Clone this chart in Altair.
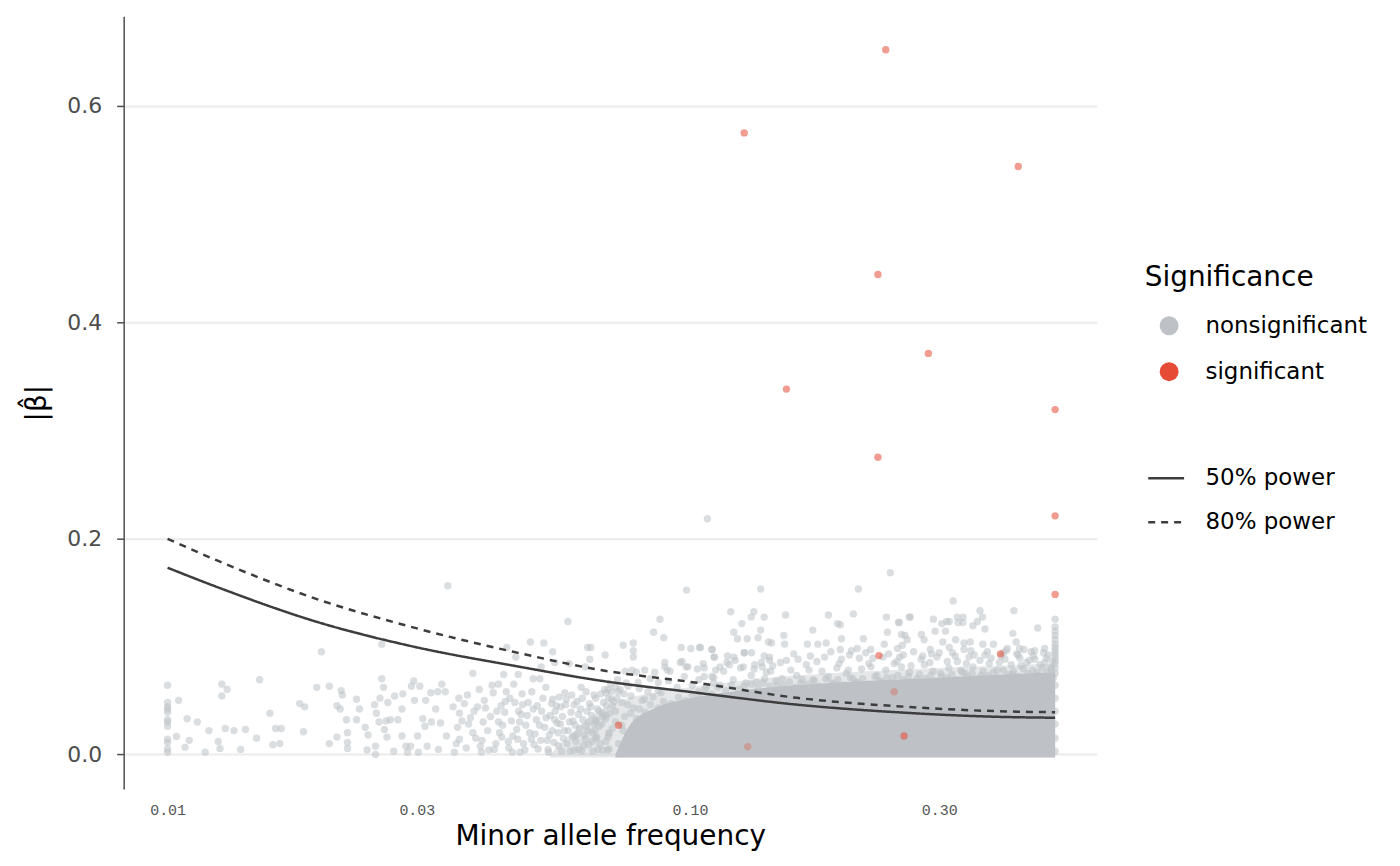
import altair as alt
import pandas as pd

# ---------------- data ----------------
# sparse non-significant variants, low MAF region
grey_left = [
    (0.01, 0.064), (0.01, 0.048), (0.01, 0.044), (0.01, 0.042), (0.01, 0.039), (0.01, 0.032),
    (0.01, 0.030), (0.01, 0.026), (0.01, 0.014), (0.01, 0.011), (0.01, 0.005), (0.01, 0.002),
    (0.0105, 0.050), (0.0104, 0.0166), (0.0108, 0.0065), (0.0109, 0.033), (0.0110, 0.013),
    (0.0114, 0.030), (0.0118, 0.002), (0.0120, 0.022), (0.0125, 0.012), (0.0126, 0.0055),
    (0.0127, 0.065), (0.0130, 0.060), (0.0127, 0.054), (0.0129, 0.024), (0.0134, 0.022),
    (0.0138, 0.0046), (0.0141, 0.023), (0.0150, 0.069), (0.0148, 0.015), (0.0157, 0.038),
    (0.0159, 0.009), (0.0161, 0.024), (0.0165, 0.024), (0.0164, 0.010), (0.0182, 0.021),
    (0.0179, 0.047), (0.0183, 0.044), (0.0193, 0.062), (0.0197, 0.095), (0.0204, 0.063),
    (0.0204, 0.010), (0.0211, 0.016), (0.0211, 0.045), (0.0215, 0.059), (0.0216, 0.055),
    (0.0214, 0.042), (0.0220, 0.032), (0.0221, 0.020), (0.0221, 0.0055), (0.0221, 0.011),
    (0.0230, 0.032), (0.0230, 0.051), (0.0233, 0.042), (0.0239, 0.025), (0.0241, 0.004),
    (0.0242, 0.018), (0.0249, 0.046), (0.0250, 0.0075), (0.0250, 0.0), (0.0251, 0.038),
    (0.0255, 0.052), (0.0257, 0.070), (0.0257, 0.102), (0.0259, 0.062), (0.0254, 0.030),
    (0.0262, 0.031), (0.0260, 0.023), (0.0264, 0.048), (0.0267, 0.032), (0.0263, 0.016),
    (0.0271, 0.003), (0.0272, 0.054), (0.0276, 0.032), (0.0281, 0.042), (0.0282, 0.056),
    (0.0281, 0.017), (0.0286, 0.0075), (0.0288, 0.002), (0.0293, 0.063), (0.0296, 0.068),
    (0.0297, 0.050), (0.0292, 0.0075), (0.0301, 0.017), (0.0304, 0.063), (0.0302, 0.002),
    (0.0308, 0.033), (0.0312, 0.050), (0.0311, 0.026), (0.0314, 0.0075), (0.0319, 0.057),
    (0.0320, 0.030), (0.0326, 0.042), (0.0329, 0.058), (0.0330, 0.0046), (0.0333, 0.029),
    (0.0335, 0.065), (0.0340, 0.058), (0.0344, 0.156), (0.0342, 0.017), (0.0354, 0.002),
    (0.0359, 0.025), (0.0361, 0.052), (0.0362, 0.038), (0.0362, 0.014), (0.0375, 0.055),
    (0.0377, 0.028), (0.0384, 0.075), (0.0386, 0.040), (0.0384, 0.020), (0.0392, 0.044),
    (0.0397, 0.0075), (0.0399, 0.002), (0.0406, 0.043), (0.0402, 0.030), (0.0420, 0.057),
    (0.0422, 0.0046), (0.0430, 0.065), (0.0430, 0.030), (0.0432, 0.020), (0.0440, 0.074),
    (0.0443, 0.049), (0.0442, 0.039), (0.0446, 0.099), (0.0449, 0.012), (0.0460, 0.065),
    (0.0464, 0.090), (0.0462, 0.048), (0.0469, 0.074), (0.0466, 0.023), (0.0473, 0.002),
    (0.0477, 0.056), (0.0475, 0.037), (0.0495, 0.104), (0.0501, 0.070), (0.0501, 0.042),
    (0.0497, 0.014), (0.0516, 0.070), (0.0525, 0.103), (0.0519, 0.081), (0.0530, 0.062),
    (0.0535, 0.0046), (0.0546, 0.095), (0.0546, 0.051), (0.0551, 0.032), (0.0551, 0.085),
    (0.0559, 0.020), (0.0566, 0.044), (0.0576, 0.057), (0.0584, 0.123), (0.0587, 0.084),
    (0.0592, 0.039), (0.0602, 0.017), (0.0611, 0.0046), (0.0619, 0.062), (0.0630, 0.081),
    (0.0632, 0.026), (0.0637, 0.099), (0.0646, 0.099), (0.0643, 0.088), (0.0646, 0.044),
    (0.0661, 0.032), (0.0667, 0.0046), (0.0688, 0.092), (0.0691, 0.057), (0.0697, 0.016),
    (0.0352, 0.044), (0.0357, 0.010), (0.0366, 0.031), (0.0370, 0.047), (0.0373, 0.006),
    (0.0380, 0.034), (0.0389, 0.015), (0.0395, 0.060), (0.0404, 0.050), (0.0412, 0.004),
    (0.0418, 0.064), (0.0427, 0.040), (0.0436, 0.016), (0.0445, 0.058),
]

# denser cloud just before the solid mass
grey_mid = [
    (0.0400, 0.013), (0.0410, 0.022), (0.0415, 0.035), (0.0425, 0.010), (0.0435, 0.045),
    (0.0438, 0.027), (0.0450, 0.006), (0.0455, 0.031), (0.0458, 0.017), (0.0470, 0.040),
    (0.0480, 0.010), (0.0485, 0.027), (0.0490, 0.048), (0.0505, 0.019), (0.0508, 0.032),
    (0.0512, 0.005), (0.0520, 0.040), (0.0527, 0.025), (0.0533, 0.013), (0.0540, 0.036),
    (0.0545, 0.022), (0.0555, 0.045), (0.0560, 0.008), (0.0565, 0.028), (0.0572, 0.015),
    (0.0580, 0.051), (0.0585, 0.022), (0.0590, 0.003), (0.0597, 0.031), (0.0600, 0.046),
    (0.0605, 0.012), (0.0612, 0.037), (0.0615, 0.024), (0.0622, 0.052), (0.0625, 0.008),
    (0.0628, 0.018), (0.0635, 0.040), (0.0640, 0.030), (0.0650, 0.012), (0.0655, 0.055),
    (0.0658, 0.022), (0.0665, 0.042), (0.0672, 0.010), (0.0678, 0.028), (0.0683, 0.048),
    (0.0690, 0.036), (0.0695, 0.004), (0.0700, 0.020), (0.0705, 0.065), (0.0710, 0.045),
    (0.0745, 0.101), (0.0779, 0.103), (0.0779, 0.096), (0.0779, 0.090), (0.0775, 0.078),
    (0.0852, 0.113), (0.0876, 0.125), (0.0891, 0.108), (0.0985, 0.152), (0.0962, 0.099),
    (0.1004, 0.098), (0.1043, 0.099), (0.1102, 0.097), (0.1111, 0.090), (0.0966, 0.086),
    (0.0991, 0.081), (0.1065, 0.080), (0.0895, 0.081), (0.0905, 0.078), (0.0856, 0.076),
    (0.0819, 0.078), (0.0790, 0.076), (0.0752, 0.077),
    (0.1271, 0.094), (0.1312, 0.094), (0.1387, 0.091), (0.1433, 0.103), (0.1420, 0.087),
    (0.0895, 0.085), (0.0916, 0.077), (0.0958, 0.085), (0.0983, 0.081), (0.1033, 0.079),
    (0.1065, 0.072), (0.1102, 0.072), (0.1142, 0.081), (0.1177, 0.085), (0.1213, 0.090),
    (0.1265, 0.081), (0.1327, 0.079), (0.1375, 0.081), (0.1427, 0.077),
    (0.0697, 0.060), (0.0727, 0.069), (0.0761, 0.063), (0.0796, 0.0665), (0.0831, 0.058),
    (0.0870, 0.0665), (0.0707, 0.051), (0.0771, 0.054), (0.0819, 0.051),
    (0.0730, 0.058), (0.0755, 0.066), (0.0800, 0.061), (0.0840, 0.070), (0.0870, 0.059),
    (0.0910, 0.068), (0.0945, 0.062), (0.0975, 0.072), (0.1010, 0.064), (0.1040, 0.069),
    (0.1075, 0.062), (0.1110, 0.066),
    (0.0452, 0.052), (0.0457, 0.002), (0.0468, 0.014), (0.0472, 0.030), (0.0478, 0.046),
    (0.0483, 0.004), (0.0488, 0.036), (0.0493, 0.020), (0.0498, 0.058), (0.0503, 0.009),
    (0.0510, 0.045), (0.0515, 0.027), (0.0518, 0.013), (0.0523, 0.052), (0.0530, 0.034),
    (0.0536, 0.002), (0.0538, 0.018), (0.0543, 0.047), (0.0549, 0.011), (0.0552, 0.040),
    (0.0557, 0.029), (0.0562, 0.053), (0.0568, 0.003), (0.0570, 0.035), (0.0575, 0.022),
    (0.0578, 0.046), (0.0582, 0.010), (0.0588, 0.030), (0.0594, 0.055), (0.0596, 0.016),
    (0.0600, 0.004), (0.0603, 0.027), (0.0608, 0.049), (0.0610, 0.019), (0.0617, 0.042),
    (0.0620, 0.003), (0.0624, 0.032), (0.0630, 0.014), (0.0633, 0.058), (0.0638, 0.022),
    (0.0642, 0.047), (0.0648, 0.036), (0.0652, 0.003), (0.0656, 0.028), (0.0660, 0.052),
    (0.0663, 0.016), (0.0670, 0.040), (0.0675, 0.056), (0.0680, 0.035), (0.0686, 0.060),
    (0.0692, 0.045), (0.0698, 0.052), (0.0702, 0.038), (0.0708, 0.058), (0.0715, 0.049),
    (0.0720, 0.062), (0.0725, 0.052), (0.0735, 0.060), (0.0740, 0.048), (0.0748, 0.056),
]

# points along the left edge of the saturated mass
grey_edge_left = [
    (0.068, 0.004), (0.069, 0.012), (0.070, 0.019), (0.071, 0.024), (0.072, 0.030),
    (0.074, 0.027), (0.075, 0.035), (0.077, 0.038), (0.079, 0.033), (0.080, 0.042),
    (0.082, 0.039), (0.084, 0.046), (0.087, 0.043), (0.089, 0.049), (0.092, 0.047),
    (0.095, 0.053), (0.098, 0.050), (0.101, 0.055), (0.104, 0.053), (0.066, 0.015),
    (0.067, 0.026), (0.069, 0.033), (0.072, 0.040), (0.076, 0.046), (0.078, 0.043),
    (0.081, 0.050), (0.085, 0.053), (0.088, 0.057), (0.064, 0.009), (0.065, 0.020),
    (0.066, 0.031), (0.068, 0.038), (0.073, 0.010), (0.076, 0.018), (0.070, 0.005),
    (0.0745, 0.022), (0.0785, 0.028), (0.0825, 0.034), (0.0865, 0.040), (0.0905, 0.044),
]

# points along the upper edge of the saturated mass
grey_edge_top = [
    (0.104, 0.058), (0.107, 0.061), (0.110, 0.056), (0.113, 0.062), (0.117, 0.059),
    (0.120, 0.064), (0.124, 0.060), (0.127, 0.063), (0.131, 0.065), (0.135, 0.061),
    (0.138, 0.066), (0.142, 0.063), (0.146, 0.068), (0.151, 0.064), (0.155, 0.067),
    (0.159, 0.062), (0.164, 0.069), (0.168, 0.065), (0.173, 0.068), (0.177, 0.063),
    (0.182, 0.070), (0.187, 0.066), (0.192, 0.069), (0.197, 0.064), (0.203, 0.071),
    (0.208, 0.067), (0.214, 0.070), (0.219, 0.065), (0.226, 0.072), (0.231, 0.068),
    (0.238, 0.071), (0.243, 0.066), (0.250, 0.073), (0.256, 0.069), (0.262, 0.072),
    (0.268, 0.067), (0.275, 0.074), (0.282, 0.070), (0.289, 0.073), (0.295, 0.068),
    (0.302, 0.075), (0.310, 0.071), (0.317, 0.074), (0.324, 0.069), (0.332, 0.076),
    (0.340, 0.072), (0.347, 0.075), (0.356, 0.070), (0.364, 0.077), (0.372, 0.073),
    (0.381, 0.076), (0.389, 0.071), (0.398, 0.078), (0.407, 0.074), (0.416, 0.077),
    (0.425, 0.072), (0.435, 0.079), (0.444, 0.075), (0.453, 0.078), (0.463, 0.073),
    (0.473, 0.080), (0.483, 0.076), (0.492, 0.079),
]

# fringe on top of the dense mass (MAF > 0.1)
grey_fringe = [
    (0.111, 0.071), (0.116, 0.077), (0.121, 0.069), (0.125, 0.080), (0.131, 0.073),
    (0.134, 0.067), (0.140, 0.076), (0.144, 0.082), (0.150, 0.070), (0.156, 0.078),
    (0.160, 0.073), (0.167, 0.083), (0.172, 0.069), (0.179, 0.077), (0.184, 0.072),
    (0.191, 0.080), (0.199, 0.075), (0.205, 0.070), (0.213, 0.079), (0.220, 0.084),
    (0.228, 0.073), (0.237, 0.078), (0.244, 0.071), (0.254, 0.081), (0.263, 0.076),
    (0.272, 0.070), (0.281, 0.083), (0.292, 0.077), (0.303, 0.072), (0.313, 0.080),
    (0.325, 0.086), (0.336, 0.075), (0.348, 0.081), (0.361, 0.073), (0.374, 0.084),
    (0.387, 0.078), (0.401, 0.088), (0.415, 0.074), (0.430, 0.082), (0.446, 0.087),
    (0.462, 0.076), (0.478, 0.085), (0.490, 0.080),
    (0.114, 0.064), (0.119, 0.083), (0.128, 0.066), (0.137, 0.085), (0.147, 0.064),
    (0.153, 0.087), (0.163, 0.066), (0.175, 0.086), (0.188, 0.065), (0.195, 0.088),
    (0.209, 0.066), (0.224, 0.089), (0.232, 0.067), (0.249, 0.086), (0.258, 0.066),
    (0.277, 0.088), (0.286, 0.067), (0.297, 0.090), (0.308, 0.066), (0.330, 0.078),
    (0.342, 0.090), (0.354, 0.068), (0.367, 0.092), (0.380, 0.069), (0.394, 0.091),
    (0.408, 0.070), (0.422, 0.093), (0.438, 0.069), (0.454, 0.091), (0.470, 0.070),
    (0.485, 0.092), (0.496, 0.071),
    (0.118, 0.091), (0.127, 0.094), (0.142, 0.090), (0.158, 0.093), (0.170, 0.091),
    (0.186, 0.095), (0.202, 0.092), (0.217, 0.094), (0.240, 0.093), (0.252, 0.090),
    (0.268, 0.095), (0.290, 0.093), (0.318, 0.094), (0.345, 0.096), (0.371, 0.095),
    (0.398, 0.094), (0.425, 0.092), (0.450, 0.095), (0.475, 0.094),
    (0.106, 0.084), (0.112, 0.078), (0.122, 0.087), (0.133, 0.083), (0.139, 0.070),
    (0.149, 0.085), (0.161, 0.088), (0.169, 0.078), (0.181, 0.090), (0.193, 0.084),
    (0.201, 0.078), (0.211, 0.089), (0.222, 0.081), (0.234, 0.090), (0.246, 0.084),
    (0.256, 0.092), (0.265, 0.082), (0.279, 0.091), (0.288, 0.085), (0.300, 0.094),
    (0.311, 0.086), (0.322, 0.091), (0.338, 0.084), (0.350, 0.092), (0.359, 0.087),
    (0.377, 0.089), (0.391, 0.085), (0.403, 0.096), (0.412, 0.083), (0.428, 0.089),
    (0.441, 0.085), (0.457, 0.088), (0.468, 0.083), (0.481, 0.089), (0.494, 0.086),
]

# scattered high values above the mass
grey_high = [
    (0.108, 0.218), (0.2418, 0.168), (0.2101, 0.153), (0.1366, 0.153), (0.319, 0.142),
    (0.1197, 0.132), (0.1325, 0.132), (0.1310, 0.127), (0.1387, 0.127), (0.1524, 0.129),
    (0.1841, 0.129), (0.2055, 0.130), (0.2377, 0.127), (0.2630, 0.127), (0.2506, 0.122),
    (0.2923, 0.125), (0.359, 0.133), (0.417, 0.133), (0.463, 0.117), (0.1257, 0.121),
    (0.1213, 0.113), (0.1233, 0.107), (0.1287, 0.107), (0.1366, 0.115), (0.135, 0.108),
    (0.1512, 0.110), (0.1718, 0.115), (0.1916, 0.121), (0.194, 0.120), (0.1950, 0.107),
    (0.2148, 0.107), (0.2388, 0.113), (0.2540, 0.111), (0.258, 0.110), (0.2773, 0.111),
    (0.2946, 0.114), (0.3084, 0.114), (0.3035, 0.121), (0.3136, 0.123), (0.3333, 0.127),
    (0.333, 0.122), (0.348, 0.119), (0.355, 0.123), (0.363, 0.127), (0.367, 0.116),
    (0.415, 0.112), (0.421, 0.104), (0.1047, 0.099), (0.1102, 0.097), (0.1115, 0.090),
    (0.1518, 0.102), (0.1414, 0.104), (0.1678, 0.102), (0.1757, 0.102), (0.1823, 0.103),
    (0.194, 0.097), (0.2037, 0.096), (0.209, 0.098), (0.2218, 0.097), (0.2355, 0.102),
    (0.2497, 0.098), (0.255, 0.101), (0.2605, 0.106), (0.2806, 0.106), (0.2884, 0.097),
    (0.3048, 0.104), (0.3136, 0.099), (0.3225, 0.106), (0.3346, 0.103), (0.3346, 0.097),
    (0.344, 0.104), (0.3637, 0.102), (0.3811, 0.102), (0.405, 0.098), (0.4275, 0.098),
    (0.4356, 0.097), (0.4568, 0.096), (0.4774, 0.098), (0.2640, 0.127), (0.2517, 0.122),
    (0.310, 0.123), (0.3246, 0.127), (0.326, 0.122),
]

# variants at the MAF = 0.5 edge
grey_edge = [
    (0.5, 0.125), (0.5, 0.118), (0.5, 0.114), (0.5, 0.110), (0.5, 0.106), (0.5, 0.102),
    (0.5, 0.099), (0.5, 0.096), (0.5, 0.093), (0.5, 0.090), (0.5, 0.087), (0.5, 0.084),
    (0.5, 0.080), (0.5, 0.075), (0.5, 0.064), (0.5, 0.052), (0.5, 0.040), (0.5, 0.028),
    (0.5, 0.015), (0.5, 0.003),
]

# significant variants
sig_visible = [
    (0.237, 0.652), (0.127, 0.575), (0.425, 0.544), (0.229, 0.444), (0.286, 0.371),
    (0.153, 0.338), (0.5, 0.319), (0.229, 0.275), (0.5, 0.2207), (0.5, 0.148),
    (0.230, 0.0914), (0.393, 0.093), (0.073, 0.027), (0.257, 0.017),
]
sig_buried = [(0.129, 0.007), (0.246, 0.058)]

# envelope of the saturated point cloud (MAF, upper |beta|)
mass_light_maf = [0.054, 0.06, 0.066, 0.074, 0.085, 0.1, 0.12, 0.15, 0.2, 0.3, 0.4, 0.5]
mass_light_top = [0.0, 0.022, 0.038, 0.050, 0.057, 0.062, 0.067, 0.072, 0.076, 0.080, 0.082, 0.084]
mass_core_maf = [0.072, 0.077, 0.085, 0.1, 0.12, 0.15, 0.2, 0.3, 0.4, 0.5]
mass_core_top = [0.0, 0.028, 0.042, 0.052, 0.058, 0.063, 0.067, 0.071, 0.074, 0.076]
mass_base = -0.003

# power curves
power_maf = [0.01, 0.01257, 0.0195, 0.029, 0.0469, 0.0666, 0.1033, 0.1603, 0.2486, 0.3857, 0.5]
power50 = [0.1727, 0.154, 0.122, 0.1006, 0.0813, 0.0686, 0.057, 0.046, 0.039, 0.0348, 0.0339]
power80 = [0.1994, 0.1785, 0.143, 0.1185, 0.0939, 0.0785, 0.0662, 0.0523, 0.0446, 0.040, 0.039]

x_ticks = [0.01, 0.03, 0.1, 0.3]
y_ticks = [0.0, 0.2, 0.4, 0.6]

# ---------------- tables ----------------
grey_all = grey_left + grey_mid + grey_edge_left + grey_edge_top + grey_fringe + grey_high + grey_edge
points = pd.DataFrame(
    [(m, b, "nonsignificant") for m, b in grey_all]
    + [(m, b, "significant") for m, b in sig_visible],
    columns=["maf", "beta", "sig"],
)
buried = pd.DataFrame(sig_buried, columns=["maf", "beta"])
mass_light = pd.DataFrame({"maf": mass_light_maf, "beta": mass_light_top,
                           "base": [mass_base] * len(mass_light_maf)})
mass_core = pd.DataFrame({"maf": mass_core_maf, "beta": mass_core_top,
                          "base": [mass_base] * len(mass_core_maf)})
lines = pd.DataFrame(
    [(m, v, "50% power") for m, v in zip(power_maf, power50)]
    + [(m, v, "80% power") for m, v in zip(power_maf, power80)],
    columns=["maf", "beta", "power"],
)

GREY = "#BEC2C6"
RED = "#E64B35"
LINE = "#3d3d3d"
PT = 55

xscale = alt.Scale(type="log", domain=[0.00824, 0.601], nice=False)
yscale = alt.Scale(domain=[-0.032, 0.683], nice=False, zero=False)

xaxis = alt.Axis(values=x_ticks, format=".2f", title="Minor allele frequency", grid=False,
                 domain=False, ticks=False, tickSize=0, labelPadding=14,
                 labelFont="Liberation Mono", labelFontSize=15, labelColor="#555555",
                 titleFontSize=28, titleFontWeight="normal", titleColor="black",
                 titlePadding=5)
yaxis = alt.Axis(values=y_ticks, format=".1f", title="|\u03b2\u0302|", grid=True,
                 gridColor="#EBEBEB", gridWidth=2, domainColor="#4d4d4d", domainWidth=1.5,
                 tickColor="#4d4d4d", tickWidth=1.5, tickSize=7, labelPadding=15,
                 labelFontSize=22, labelColor="#4d4d4d", titleFontSize=28,
                 titleFontWeight="normal", titleColor="black", titlePadding=15)

X = alt.X("maf:Q", scale=xscale, axis=xaxis)
Y = alt.Y("beta:Q", scale=yscale, axis=yaxis)

light = alt.Chart(mass_light).mark_area(color=GREY, opacity=0.4, interpolate="monotone").encode(
    x=X, y=Y, y2="base:Q")
core = alt.Chart(mass_core).mark_area(color=GREY, opacity=1, interpolate="monotone").encode(
    x=X, y=Y, y2="base:Q")

buried_layer = alt.Chart(buried).mark_circle(size=PT, color=RED, opacity=0.3).encode(x=X, y=Y)

pts = alt.Chart(points).mark_circle(size=PT, opacity=0.55).encode(
    x=X, y=Y,
    color=alt.Color("sig:N",
                    scale=alt.Scale(domain=["nonsignificant", "significant"], range=[GREY, RED]),
                    legend=alt.Legend(title="Significance", orient="none", legendX=1024,
                                      legendY=249, padding=0, titleFontSize=28,
                                      titleFontWeight="normal", titleColor="black",
                                      titlePadding=22, labelFontSize=23, labelColor="black",
                                      labelLimit=400, symbolType="circle", symbolSize=361,
                                      symbolOpacity=1, symbolStrokeWidth=0, symbolOffset=13,
                                      labelOffset=25, rowPadding=22)),
)

power = alt.Chart(lines).mark_line(color=LINE, strokeWidth=2.5, interpolate="monotone").encode(
    x=X, y=Y,
    strokeDash=alt.StrokeDash("power:N",
                              scale=alt.Scale(domain=["50% power", "80% power"],
                                              range=[[1, 0], [7, 6]]),
                              legend=alt.Legend(title=None, orient="none", legendX=1026,
                                                legendY=444, padding=0, labelFontSize=23,
                                                labelColor="black", labelLimit=400,
                                                symbolType="stroke", symbolSize=1296,
                                                symbolStrokeWidth=2.5, symbolStrokeColor=LINE,
                                                labelOffset=20, rowPadding=12)),
)

chart = (
    alt.layer(light, core, buried_layer, pts, power)
    .properties(width=976, height=775,
                autosize=alt.AutoSizeParams(type="none"),
                padding={"left": 116, "top": 7, "right": 296, "bottom": 66})
    .configure(font="DejaVu Sans")
    .configure_view(strokeWidth=0)
)

chart.save("out.html", embed_options={"renderer": "svg", "actions": False})
